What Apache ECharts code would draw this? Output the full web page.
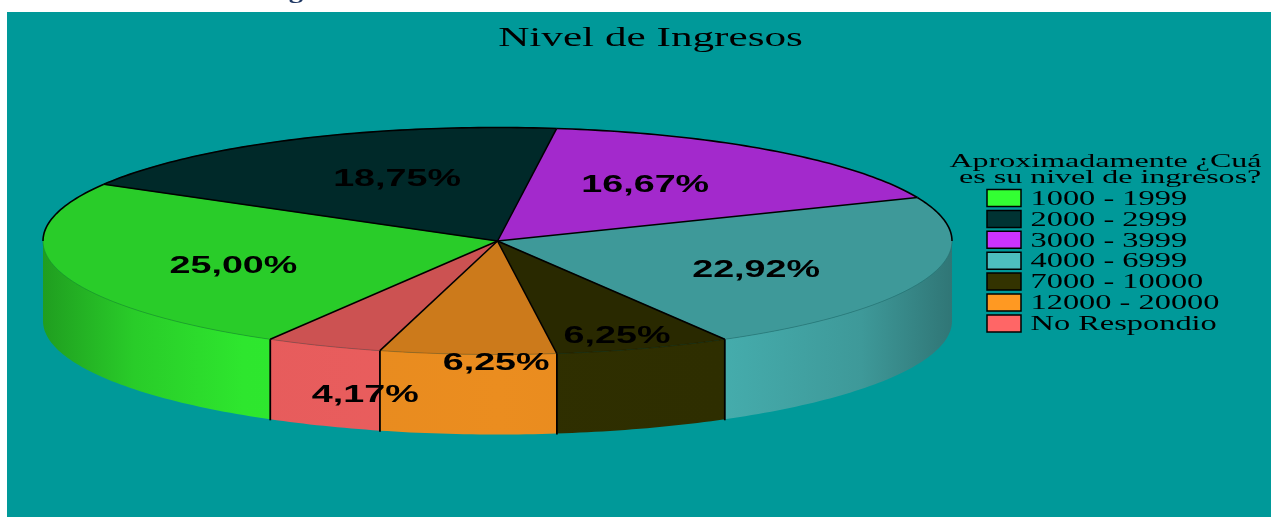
<!DOCTYPE html>
<html>
<head>
<meta charset="utf-8">
<style>html,body{margin:0;padding:0;background:#fff;overflow:hidden}#chart{width:1271px;height:517px}</style>
<script src="https://cdn.jsdelivr.net/npm/echarts@6/dist/echarts.min.js"></script>
</head>
<body>
<div id="chart"></div>
<script>
// ---- data ----
const categories = ['1000 - 1999','2000 - 2999','3000 - 3999','4000 - 6999','7000 - 10000','12000 - 20000','No Respondio'];
const percents = [25.00,18.75,16.67,22.92,6.25,6.25,4.17];
const percentLabels = ['25,00%','18,75%','16,67%','22,92%','6,25%','6,25%','4,17%'];
const colors = ['#33ff33','#003333','#cc33ff','#4dbfbf','#333300','#ff9922','#ff6666'];
const chartTitle = 'Nivel de Ingresos';
const legendTitle = ['Aproximadamente ¿Cuá','es su nivel de ingresos?'];

// ---- layout ----
const PIE = {cx:497.5, cy:241, rx:454.5, ry:113.5, depth:80, start:210};
const labelAnchor = [[-.581,.204],[-.221,-.563],[.325,-.51],[.569,.239],[.263,.819],[-.003,1.063],[-.291,1.346]];
const sideShade = [[0,.62],[.1,.80],[.22,.90],[.5,.92],[.75,.90],[.9,.80],[1,.62]];
const SERIF = '"Liberation Serif"';
const SANS = '"Liberation Sans"';

function shade(hex,f){
  const n=parseInt(hex.slice(1),16);
  return 'rgb('+[(n>>16)&255,(n>>8)&255,n&255].map(v=>Math.round(v*f)).join(',')+')';
}
function px(a,dy){const r=a*Math.PI/180;return [PIE.cx+PIE.rx*Math.sin(r),PIE.cy-PIE.ry*Math.cos(r)+(dy||0)];}
function arc(a0,a1,dy){const n=Math.max(2,Math.ceil(Math.abs(a1-a0)));const p=[];for(let i=0;i<=n;i++)p.push(px(a0+(a1-a0)*i/n,dy));return p;}
const total=percents.reduce((s,v)=>s+v,0);
function sliceAngles(i){
  let s=0;for(let k=0;k<i;k++)s+=percents[k];
  return [PIE.start+s/total*360,PIE.start+(s+percents[i])/total*360];
}
function clipRange(a0,a1,lo,hi){
  const out=[];
  for(const off of [-360,0,360]){
    const s=Math.max(a0,lo+off),e=Math.min(a1,hi+off);
    if(e>s)out.push([s,e]);
  }
  return out;
}
function renderSide(params,api){
  const i=params.dataIndex,[a0,a1]=sliceAngles(i),ch=[];
  const base=colors[i];
  const fill={type:'linear',x:PIE.cx-PIE.rx,y:0,x2:PIE.cx+PIE.rx,y2:0,global:true,
    colorStops:sideShade.map(s=>({offset:s[0],color:shade(base,s[1])}))};
  clipRange(a0,a1,90,270).forEach(r=>{
    const pts=arc(r[0],r[1],0).concat(arc(r[1],r[0],PIE.depth));
    ch.push({type:'polygon',shape:{points:pts},style:{fill:fill,stroke:null}});
  });
  return {type:'group',children:ch};
}
function renderTop(params,api){
  const i=params.dataIndex,[a0,a1]=sliceAngles(i);
  const pts=[[PIE.cx,PIE.cy]].concat(arc(a0,a1,0));
  const ch=[{type:'polygon',shape:{points:pts},style:{fill:shade(colors[i],.8),stroke:shade(colors[i],.8),lineWidth:.5}}];
  clipRange(a0,a1,90,270).forEach(r=>{
    ch.push({type:'polyline',shape:{points:arc(r[0],r[1],0)},style:{fill:null,stroke:'rgba(0,0,0,.3)',lineWidth:.6}});
  });
  clipRange(a0,a1,-90,90).forEach(r=>{
    ch.push({type:'polyline',shape:{points:arc(r[0],r[1],0)},style:{fill:null,stroke:'#000',lineWidth:1.6}});
  });
  return {type:'group',children:ch};
}
function renderEdges(params,api){
  const i=params.dataIndex,[a0]=sliceAngles(i),ch=[];
  const p=px(a0,0);
  ch.push({type:'line',shape:{x1:PIE.cx,y1:PIE.cy,x2:p[0],y2:p[1]},style:{stroke:'#000',lineWidth:1.6}});
  const c=Math.cos(a0*Math.PI/180);
  if(c<0){ch.push({type:'line',shape:{x1:p[0],y1:p[1],x2:p[0],y2:p[1]+PIE.depth+1},style:{stroke:'#000',lineWidth:1.8}});}
  return {type:'group',children:ch};
}
function renderLabel(params,api){
  const i=params.dataIndex,a=labelAnchor[i];
  return {type:'text',x:PIE.cx+a[0]*PIE.rx,y:PIE.cy+a[1]*PIE.ry+2,scaleX:1.57,scaleY:1,
    style:{text:percentLabels[i],fill:'#000',font:'bold 24px '+SANS,textAlign:'center',textVerticalAlign:'middle'}};
}
function renderLegend(params,api){
  const i=params.dataIndex,y=189.5+i*20.9;
  return {type:'group',children:[
    {type:'rect',shape:{x:987,y:y,width:34,height:17},style:{fill:colors[i],stroke:'#000',lineWidth:1.5}},
    {type:'text',x:1030.5,y:y+10,scaleX:1.62,scaleY:1,
      style:{text:categories[i],fill:'#000',font:'20px '+SERIF,textAlign:'left',textVerticalAlign:'middle'}}
  ]};
}
const sliceData=percents.map((v,i)=>({value:[i,v],name:categories[i]}));
function layer(name,fn,z){return {type:'custom',name:name,coordinateSystem:'none',data:sliceData,renderItem:fn,silent:true,animation:false,z:z,tooltip:{show:false}};}
const chart=echarts.init(document.getElementById('chart'),null,{renderer:'canvas'});
chart.setOption({
  animation:false,
  backgroundColor:'#ffffff',
  graphic:[
    {type:'rect',z:-10,shape:{x:7,y:12,width:1264,height:505},style:{fill:'#009999'}},
    {type:'text',z:-20,x:296,y:-8,scaleX:1.3,style:{text:'g',fill:'#1f3864',font:'bold 22px '+SERIF,textAlign:'center',textVerticalAlign:'middle'}},
    {type:'text',z:5,x:650.5,y:38.5,scaleX:1.6,style:{text:chartTitle,fill:'#000',font:'27px '+SERIF,textAlign:'center',textVerticalAlign:'middle'}},
    {type:'text',z:5,x:949.5,y:162,scaleX:1.685,style:{text:legendTitle[0],fill:'#000',font:'19px '+SERIF,textAlign:'left',textVerticalAlign:'middle'}},
    {type:'text',z:5,x:959,y:178.5,scaleX:1.685,style:{text:legendTitle[1],fill:'#000',font:'19px '+SERIF,textAlign:'left',textVerticalAlign:'middle'}}
  ],
  series:[
    layer('side',renderSide,1),
    layer('top',renderTop,2),
    layer('edges',renderEdges,3),
    layer('labels',renderLabel,4),
    layer('legend',renderLegend,5)
  ]
});
</script>
</body>
</html>
